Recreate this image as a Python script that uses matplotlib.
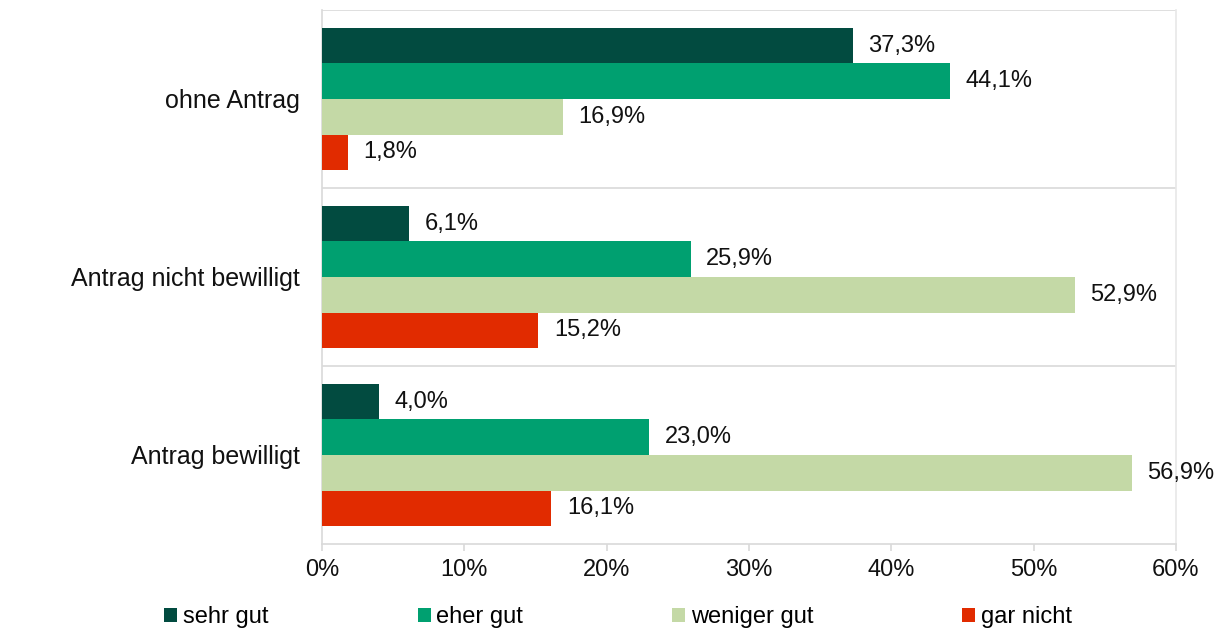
import matplotlib
matplotlib.use("Agg")
from matplotlib import pyplot as plt
from matplotlib.patches import Patch
import numpy as np

plt.rcParams['font.family'] = ['Liberation Sans', 'DejaVu Sans']

# categories from bottom to top
gruppen = ["Antrag bewilligt", "Antrag nicht bewilligt", "ohne Antrag"]
serien = ["sehr gut", "eher gut", "weniger gut", "gar nicht"]
farben = ["#024B40", "#00A070", "#C4D9A6", "#E12B00"]

sehr_gut = [4.0, 6.1, 37.3]
eher_gut = [23.0, 25.9, 44.1]
weniger_gut = [56.9, 52.9, 16.9]
gar_nicht = [16.1, 15.2, 1.8]
werte = [sehr_gut, eher_gut, weniger_gut, gar_nicht]

xticks = [0, 10, 20, 30, 40, 50, 60]

fig = plt.figure(figsize=(12.17, 6.31), dpi=100)
ax = fig.add_axes([0.2646, 0.1379, 0.7017, 0.8463])

y = np.arange(len(gruppen))
h = 0.2
offsets = [0.3, 0.1, -0.1, -0.3]
for vals, off, col in zip(werte, offsets, farben):
    bars = ax.barh(y + off, vals, height=h, color=col, zorder=3)
    for b, v in zip(bars, vals):
        ax.text(v + 1.1, b.get_y() + b.get_height() / 2,
                f"{v:.1f}%".replace(".", ","),
                va="center", ha="left", fontsize=17, color="#111111")

ax.set_xlim(0, 60)
ax.set_ylim(-0.5, 2.5)
ax.set_yticks(y)
ax.set_yticklabels(gruppen, fontsize=18, color="#111111")
ax.tick_params(axis="y", length=0, pad=16)
ax.set_xticks(xticks)
ax.set_xticklabels([f"{t}%" for t in xticks], fontsize=17, color="#111111")
ax.tick_params(axis="x", length=5, color="#d9d9d9", width=1.2, pad=6)

# separators between groups
for yy in [0.5, 1.5, 2.5]:
    ax.axhline(yy, color="#d9d9d9", lw=1.2, zorder=1)
ax.spines["top"].set_visible(False)
ax.spines["right"].set_color("#e8e8e8")
ax.spines["right"].set_linewidth(1.2)
ax.spines["left"].set_color("#d9d9d9")
ax.spines["bottom"].set_color("#d9d9d9")
ax.spines["left"].set_linewidth(1.2)
ax.spines["bottom"].set_linewidth(1.2)

handles = [Patch(facecolor=c, edgecolor="none") for c in farben]
fig.legend(handles, serien, loc="center", bbox_to_anchor=(0.508, 0.022), ncol=4,
           frameon=False, fontsize=17, handlelength=0.55, handleheight=0.55,
           handletextpad=0.25, columnspacing=6.3)

fig.savefig("out.png", dpi=100)
plt.close()
